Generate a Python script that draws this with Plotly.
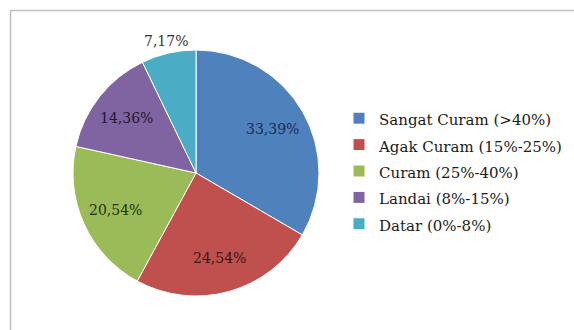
import math
import plotly.graph_objects as go

categories = ["Sangat Curam (>40%)", "Agak Curam (15%-25%)", "Curam (25%-40%)",
              "Landai (8%-15%)", "Datar (0%-8%)"]
values = [33.39, 24.54, 20.54, 14.36, 7.17]
colors = ["#4F81BD", "#C0504D", "#9BBB59", "#8064A2", "#4BACC6"]
label_colors = ["#1C2C55", "#3A1414", "#24300F", "#22182F", "#333333"]
text_labels = [f"{v:.2f}".replace(".", ",") + "%" for v in values]

W, H = 574, 330
cx, cy, R = 196, 173, 123

fig = go.Figure(go.Pie(
    labels=[f"<span style='font-size:15px'>{c}</span>" for c in categories],
    values=values,
    textinfo="none",
    marker=dict(colors=colors, line=dict(color="white", width=1)),
    sort=False,
    direction="clockwise",
    rotation=0,
    domain=dict(x=[(cx - R) / W, (cx + R) / W], y=[1 - (cy + R) / H, 1 - (cy - R) / H]),
))

# data labels placed at each slice's mid-angle (Excel "best fit" look)
total = sum(values)
annotations = []
cum = 0.0
for v, t, col in zip(values, text_labels, label_colors):
    mid = (cum + v / 2) / total * 2 * math.pi
    cum += v
    frac = 0.72 if v >= 10 else 1.10
    px = cx + frac * R * math.sin(mid)
    py = cy - frac * R * math.cos(mid)
    annotations.append(dict(
        x=px / W, y=1 - py / H, xref="paper", yref="paper",
        text=t, showarrow=False, xanchor="center", yanchor="middle",
        font=dict(family="DejaVu Serif", size=14, color=col),
    ))

fig.update_layout(
    width=W, height=H,
    margin=dict(l=0, r=0, t=0, b=0, autoexpand=False),
    paper_bgcolor="white",
    plot_bgcolor="white",
    font=dict(family="DejaVu Serif", color="#222222"),
    annotations=annotations,
    legend=dict(
        x=339 / W, y=1 - 100 / H, xanchor="left", yanchor="top",
        font=dict(family="DejaVu Serif", size=18, color="#1A1A1A"),
        itemwidth=30,
        bgcolor="rgba(0,0,0,0)",
    ),
    shapes=[dict(type="rect", xref="paper", yref="paper",
                 x0=10.5 / W, x1=1.05, y0=-0.05, y1=1 - 10.5 / H,
                 line=dict(color="#C0C0C0", width=1.5), fillcolor="rgba(0,0,0,0)",
                 layer="below")],
)

fig.write_html("out.html")
